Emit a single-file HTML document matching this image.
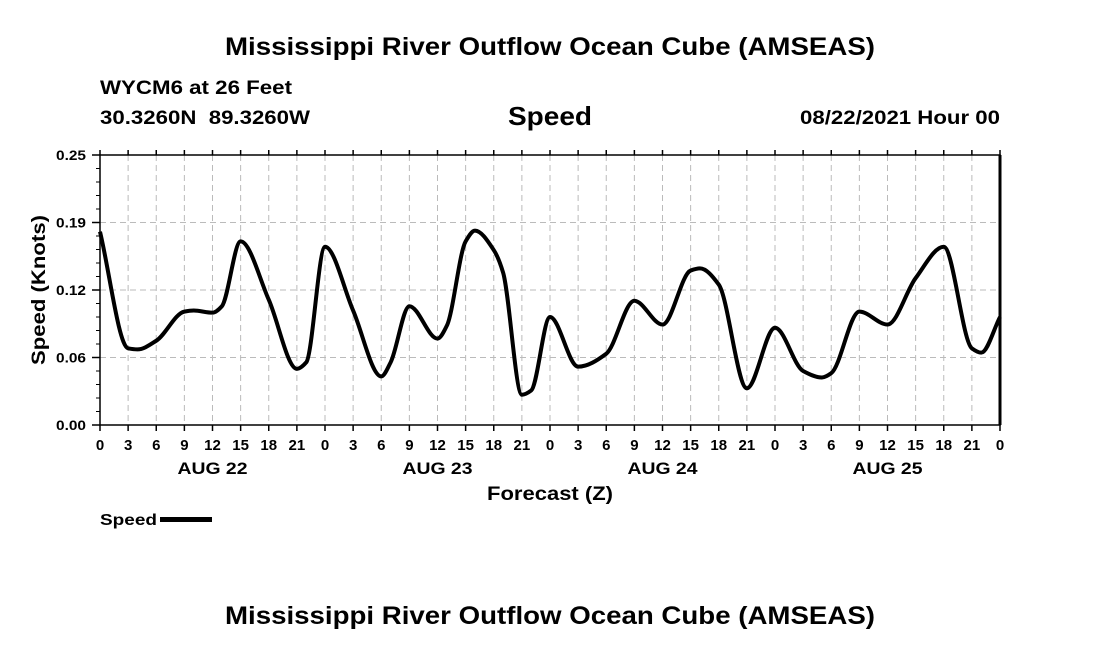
<!DOCTYPE html>
<html><head><meta charset="utf-8"><style>
body{margin:0;background:#fff;}
svg text{font-family:"Liberation Sans",Arial,sans-serif;font-weight:bold;fill:#000;}
</style></head><body>
<svg width="1100" height="650" xmlns="http://www.w3.org/2000/svg" id="chart">
<text x="550" y="55" font-size="25" text-anchor="middle" textLength="650" lengthAdjust="spacingAndGlyphs">Mississippi River Outflow Ocean Cube (AMSEAS)</text>
<text x="100" y="94" font-size="19" textLength="192" lengthAdjust="spacingAndGlyphs">WYCM6 at 26 Feet</text>
<text x="100" y="124" font-size="19" textLength="210" lengthAdjust="spacingAndGlyphs" xml:space="preserve">30.3260N  89.3260W</text>
<text x="550" y="125" font-size="26" text-anchor="middle" textLength="84" lengthAdjust="spacingAndGlyphs">Speed</text>
<text x="1000" y="124" font-size="19" text-anchor="end" textLength="200" lengthAdjust="spacingAndGlyphs">08/22/2021 Hour 00</text>
<g id="grid"></g>
<g id="axes"></g>
<path id="line" fill="none" stroke="#000" stroke-width="4" stroke-linejoin="round"/>
<text transform="translate(45,290) rotate(-90)" font-size="19" text-anchor="middle" textLength="150" lengthAdjust="spacingAndGlyphs">Speed (Knots)</text>
<text x="550" y="500" font-size="19" text-anchor="middle" textLength="126" lengthAdjust="spacingAndGlyphs">Forecast (Z)</text>
<text x="100" y="525" font-size="16" textLength="57" lengthAdjust="spacingAndGlyphs">Speed</text>
<rect x="160" y="517" width="52" height="5" fill="#000"/>
<text x="550" y="624" font-size="25" text-anchor="middle" textLength="650" lengthAdjust="spacingAndGlyphs">Mississippi River Outflow Ocean Cube (AMSEAS)</text>
</svg>
<script>
const hours=[0,3,4,6,9,10,12,13,15,18,21,22,24,27,30,31,33,36,37,39,40,42,43,45,46,48,51,54,57,60,63,64,66,69,72,75,77,78,81,84,87,90,93,94,96];
const speeds=[0.179,0.071,0.070,0.078,0.105,0.106,0.104,0.110,0.170,0.116,0.052,0.058,0.165,0.106,0.045,0.058,0.110,0.080,0.092,0.170,0.180,0.162,0.141,0.028,0.032,0.100,0.054,0.066,0.115,0.093,0.143,0.145,0.130,0.034,0.090,0.050,0.044,0.048,0.105,0.093,0.136,0.165,0.071,0.067,0.100];
const yTicks=[0,0.0625,0.125,0.1875,0.25];
const yTickLabels=["0.00","0.06","0.12","0.19","0.25"];
const dayLabels=["AUG 22","AUG 23","AUG 24","AUG 25"];
const L=100,R=1000,T=155,B=425,HMAX=96,YMAX=0.25;
const xs=h=>L+(R-L)*h/HMAX, ys=v=>B-(B-T)*v/YMAX;
const NS="http://www.w3.org/2000/svg";
const grid=document.getElementById('grid'),axes=document.getElementById('axes');
function mk(tag,attrs,parent){const e=document.createElementNS(NS,tag);for(const k in attrs)e.setAttribute(k,attrs[k]);parent.appendChild(e);return e;}
for(let h=3;h<HMAX;h+=3){
  const g=mk('line',{x1:xs(h),x2:xs(h),y1:T,y2:B,stroke:'#bbb','stroke-dasharray':'6,4'},grid);
  
  
}
yTicks.forEach((v,i)=>{
  if(i>0&&i<yTicks.length-1){const g=mk('line',{x1:L,x2:R,y1:ys(v),y2:ys(v),stroke:'#bbb','stroke-dasharray':'6,4'},grid);
  
  }
  const t=mk('text',{x:L-14,y:ys(v)+5,'font-size':14,'text-anchor':'end',textLength:30,lengthAdjust:'spacingAndGlyphs'},axes);t.textContent=yTickLabels[i];
  
  
  mk('line',{x1:L-8,x2:L,y1:ys(v),y2:ys(v),stroke:'#000','stroke-width':1.5},axes);
});
for(let v=0;v<=YMAX+1e-9;v+=0.0125){mk('line',{x1:L-4,x2:L,y1:ys(v),y2:ys(v),stroke:'#000'},axes);}
mk('rect',{x:L,y:T,width:R-L,height:B-T,fill:'none',stroke:'#000','stroke-width':1.5},axes);
mk('line',{x1:R,x2:R,y1:T,y2:B,stroke:'#000','stroke-width':3},axes);
for(let h=0;h<=HMAX;h+=3){
  mk('line',{x1:xs(h),x2:xs(h),y1:B,y2:B+6,stroke:'#000','stroke-width':1.5},axes);
  mk('line',{x1:xs(h),x2:xs(h),y1:T-5,y2:T,stroke:'#000','stroke-width':1.5},axes);
  const t=mk('text',{x:xs(h),y:B+25,'font-size':15,'text-anchor':'middle'},axes);t.textContent=String(h%24);
  
  
}
dayLabels.forEach((d,i)=>{const t=mk('text',{x:xs(i*24+12),y:B+49,'font-size':17,'text-anchor':'middle',textLength:70,lengthAdjust:'spacingAndGlyphs'},axes);t.textContent=d;
  
  });
const X=hours.map(xs),Y=speeds.map(ys),n=X.length;
const dl=[],m=[];
for(let i=0;i<n-1;i++)dl.push((Y[i+1]-Y[i])/(X[i+1]-X[i]));
m[0]=dl[0];m[n-1]=dl[n-2];
for(let i=1;i<n-1;i++){
  if(dl[i-1]*dl[i]<=0)m[i]=0;
  else{const w1=2*(X[i+1]-X[i])+(X[i]-X[i-1]),w2=(X[i+1]-X[i])+2*(X[i]-X[i-1]);m[i]=(w1+w2)/(w1/dl[i-1]+w2/dl[i]);}
}
let d='M'+X[0]+','+Y[0];
for(let i=0;i<n-1;i++){
  const hh=(X[i+1]-X[i])/3;
  d+=' C'+(X[i]+hh)+','+(Y[i]+m[i]*hh)+' '+(X[i+1]-hh)+','+(Y[i+1]-m[i+1]*hh)+' '+X[i+1]+','+Y[i+1];
}
document.getElementById('line').setAttribute('d',d);
</script>
</body></html>
